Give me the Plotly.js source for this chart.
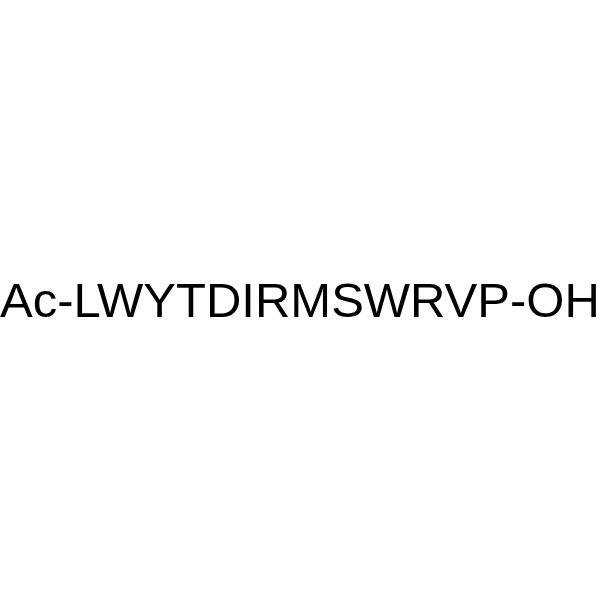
<!DOCTYPE html>
<html>
<head>
<meta charset="utf-8">
<script src="https://cdn.plot.ly/plotly-3.0.1.min.js"></script>
<style>
  html, body { margin: 0; padding: 0; background: #fff; }
  #plot { width: 600px; height: 600px; }
</style>
</head>
<body>
<div id="plot"></div>
<script>
// the peptide name is the only content of the picture
const labels = ['Ac-LWYTDIRMSWRVP-OH']
const labelX = [0.5]
const labelY = [0.5]

const annotations = labels.map((t, i) => ({
  text: t, x: labelX[i], y: labelY[i],
  xref: 'paper', yref: 'paper', showarrow: false,
  xanchor: 'center', yanchor: 'middle',
  font: { family: 'Liberation Sans, Arial, sans-serif', size: 49, color: '#000' }
}))

const layout = {
  width: 600, height: 600,
  margin: { l: 0, r: 0, t: 0, b: 0 },
  paper_bgcolor: '#fff', plot_bgcolor: '#fff',
  xaxis: { visible: false, range: [0, 1] },
  yaxis: { visible: false, range: [0, 1] },
  showlegend: false,
  annotations: annotations
}

Plotly.newPlot('plot', [], layout, { staticPlot: true, displayModeBar: false })
</script>
</body>
</html>
